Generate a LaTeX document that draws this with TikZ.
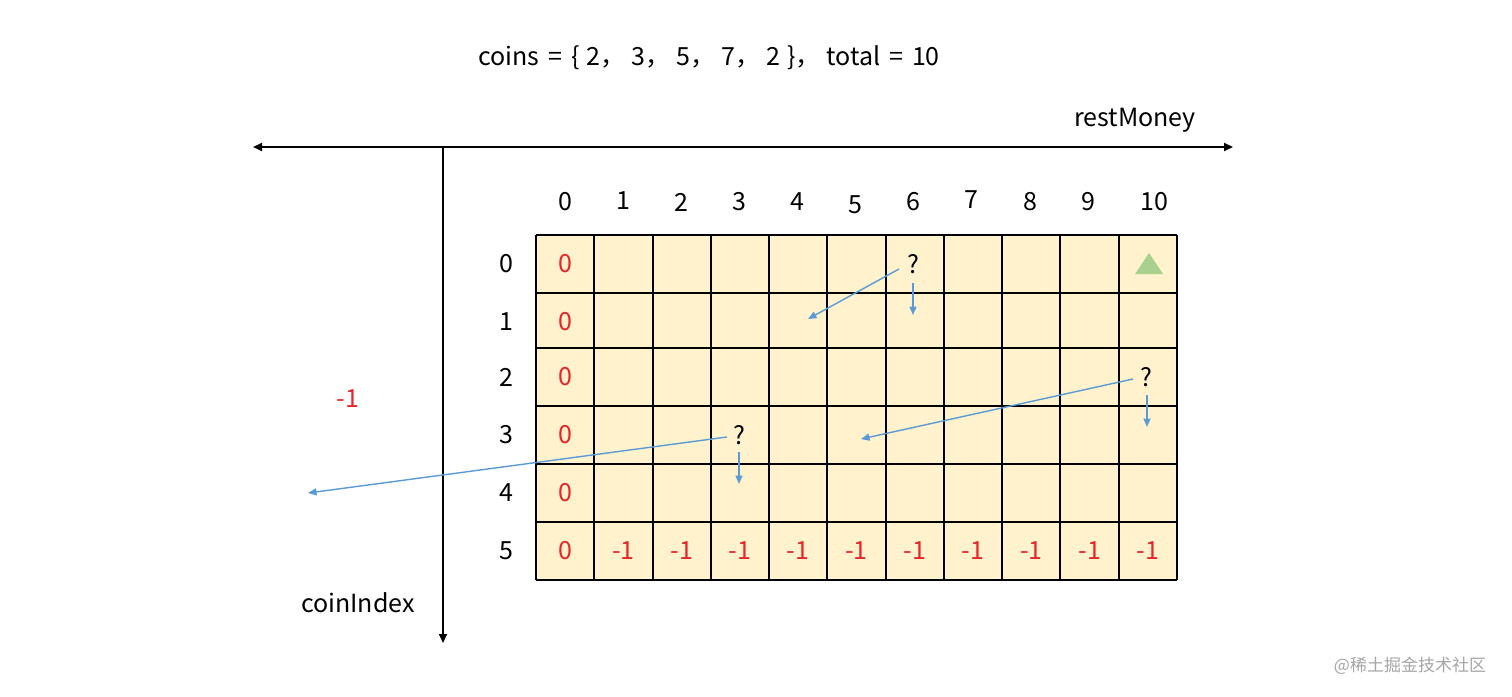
\documentclass[tikz,border=0pt]{standalone}
\usepackage{fontspec}
\setmainfont{Noto Sans CJK SC}
\usetikzlibrary{arrows.meta}
\definecolor{cellfill}{HTML}{FFF2CC}
\definecolor{numred}{HTML}{E8262A}
\definecolor{arrblue}{HTML}{5B9BD5}
\definecolor{trigreen}{HTML}{A9D18E}
\begin{document}
\begin{tikzpicture}[x=1pt,y=-1pt,
  every node/.style={font=\fontsize{25}{30}\selectfont, inner sep=0pt},
  redtxt/.style={text=numred},
  gridline/.style={line width=1.6pt, black},
  axisline/.style={line width=1.8pt, black},
  blueline/.style={line width=1.4pt, arrblue, -{Triangle[length=8.5pt,width=7pt]}}]
\useasboundingbox (0,0) rectangle (1512,696);
\fill[white] (0,0) rectangle (1512,696);
% title
\node (title) at (709,58) {coins\hspace{9pt}=\hspace{9pt}\{\hspace{7pt}2，\hspace{6pt}3，\hspace{6pt}5，\hspace{6pt}7，\hspace{6pt}2\hspace{7pt}\}，\hspace{6pt}total\hspace{9pt}=\hspace{9pt}10};
% axes
\coordinate (hl) at (253,147);
\coordinate (hr) at (1233,147);
\coordinate (vt) at (443,147);
\coordinate (vb) at (443,643);
\draw[axisline, {Triangle[length=9pt,width=8pt]}-{Triangle[length=9pt,width=8pt]}] (hl) -- (hr);
\draw[axisline, -{Triangle[length=9pt,width=8pt]}] (vt) -- (vb);
\node (rest) at (1135,120) {restMoney};
\node (coin) at (358,603) {coinIndex};
\node[redtxt] (neg) at (348,399) {-1};
% grid
\fill[cellfill] (536,235) rectangle (1177,580);
\foreach \x in {536,594,653,711,769,827,886,944,1002,1060,1119,1177} \draw[gridline] (\x,235) -- (\x,580);
\foreach \y in {235,293,348,406,464,522,580} \draw[gridline] (536,\y) -- (1177,\y);
% column labels
\foreach \t/\x/\y in {0/565/202,1/623/201,2/681/202,3/739/202,4/797/202,5/855/205,6/913/202,7/971/200,8/1030/202,9/1088/202,10/1154/202}
  \node (h\t) at (\x,\y) {\t};
% row labels
\foreach \t/\y in {0/264,1/322,2/377,3/435,4/493,5/551}
  \node (v\t) at (506,\y) {\t};
% column 0 zeros
\foreach \t/\y in {0/264,1/322,2/377,3/435,4/493,5/551}
  \node[redtxt] (z\t) at (565,\y) {0};
% bottom row -1
\foreach \i in {1,...,10}
  \node[redtxt] (m\i) at (536+\i*58.273+29.14,551) {-1};
% triangle
\fill[trigreen] (1135,274) -- (1163,274) -- (1149,253) -- cycle;
% question marks
\node (q1) at (913,264) {?};
\node (q2) at (1146,377) {?};
\node (q3) at (739,435) {?};
% arrows
\coordinate (a1s) at (899,269); \coordinate (a1e) at (808,319);
\coordinate (d1s) at (913,283); \coordinate (d1e) at (913,315);
\coordinate (a2s) at (1133,379); \coordinate (a2e) at (861,439);
\coordinate (d2s) at (1147,395); \coordinate (d2e) at (1147,427);
\coordinate (a3s) at (727,437); \coordinate (a3e) at (308,493);
\coordinate (d3s) at (739,452); \coordinate (d3e) at (739,484);
\draw[blueline] (a1s) -- (a1e);
\draw[blueline] (d1s) -- (d1e);
\draw[blueline] (a2s) -- (a2e);
\draw[blueline] (d2s) -- (d2e);
\draw[blueline] (a3s) -- (a3e);
\draw[blueline] (d3s) -- (d3e);
% watermark
\node[text=black!35, font=\fontsize{17}{20}\selectfont] (wm) at (1410,666) {@稀土掘金技术社区};
\end{tikzpicture}
\end{document}
